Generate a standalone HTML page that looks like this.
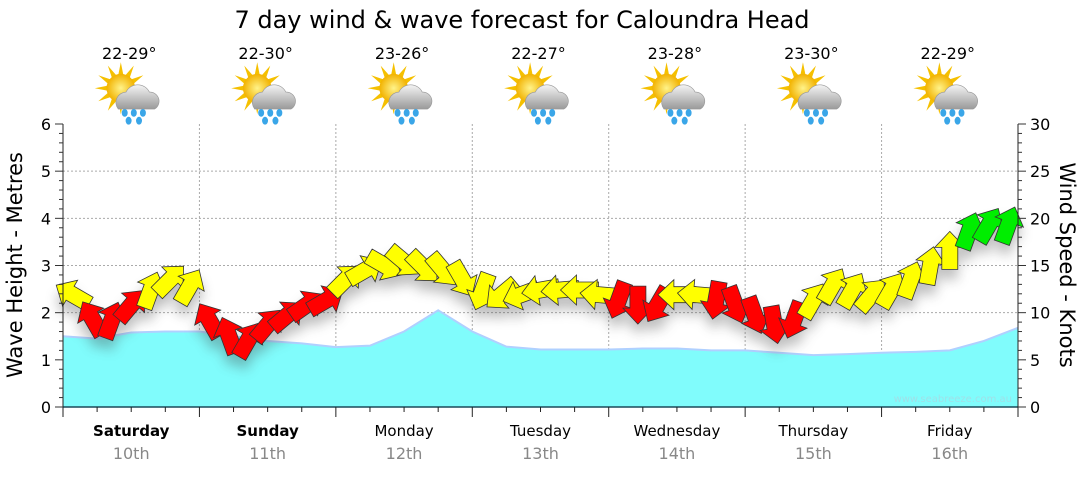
<!DOCTYPE html>
<html><head><meta charset="utf-8"><style>
body{margin:0;background:#fff;width:1080px;height:475px;overflow:hidden}
svg{font-family:"DejaVu Sans","Liberation Sans",sans-serif}
</style></head><body>
<svg id="c" width="1080" height="475">
<defs>
<filter id="sh" x="-50%" y="-50%" width="200%" height="200%"><feGaussianBlur stdDeviation="6"/></filter>
<radialGradient id="sun" cx="50%" cy="50%" r="50%"><stop offset="0" stop-color="#fff38a"/><stop offset="1" stop-color="#f2b200"/></radialGradient>
<linearGradient id="cloud" x1="0" y1="0" x2="0" y2="1"><stop offset="0" stop-color="#f4f4f4"/><stop offset="1" stop-color="#9a9a9a"/></linearGradient>
</defs>
<text x="522" y="28" font-size="24" text-anchor="middle">7 day wind &amp; wave forecast for Caloundra Head</text>
<g id="grid"></g>
<g id="wave"></g>
<g id="shadow" filter="url(#sh)" opacity="0.35"></g>
<g id="arrows"></g>
<g id="axes"></g>
<g id="top"></g>
<text x="1012" y="402" font-size="10" fill="#9fe0e8" text-anchor="end">www.seabreeze.com.au</text>
<text transform="translate(22,265) rotate(-90)" font-size="21" text-anchor="middle">Wave Height - Metres</text>
<text transform="translate(1060,265) rotate(90)" font-size="21" text-anchor="middle">Wind Speed - Knots</text>
</svg>
<script>
const days=["Saturday","Sunday","Monday","Tuesday","Wednesday","Thursday","Friday"];
const dates=["10th","11th","12th","13th","14th","15th","16th"];
const temps=["22-29°","22-30°","23-26°","22-27°","23-28°","23-30°","22-29°"];
const waveTicks=[0,1,2,3,4,5,6];
const windTicks=[0,5,10,15,20,25,30];
// wave height (m), 6-hourly, 29 points
const wave=[1.5,1.45,1.58,1.6, 1.6,1.5,1.4,1.35, 1.27,1.3,1.6,2.05, 1.6,1.28,1.22,1.22, 1.22,1.24,1.24,1.2, 1.2,1.15,1.1,1.12, 1.15,1.17,1.2,1.4,1.68];
// wind speed (knots), 7 per day
const wind=[11.9,9.4,9.2,10.8,12.4,13.5,12.8, 9.2,7.6,7.1,8.7,9.7,10.8,11.3, 13.5,14.5,15,15.4,14.8,14.5,13.5, 12.2,11.9,11.9,12.4,12.4,12.4,11.9, 11.3,10.8,10.8,11.9,11.9,11.3,10.8, 9.7,8.7,9.2,11.3,12.9,12.4,11.9, 12.4,13.5,15,16.6,18.7,19.3,19.3];
const windDir=[300,330,20,40,20,45,30, 330,340,30,40,50,55,60, 45,60,120,130,135,140,150, 200,230,250,260,265,270,275, 200,180,210,270,275,190,160, 160,170,200,30,30,30,40, 30,20,10,0,20,30,20];
const windCol=["y","r","r","r","y","y","y", "r","r","r","r","r","r","r", "y","y","y","y","y","y","y", "y","y","y","y","y","y","y", "r","r","r","y","y","r","r", "r","r","r","y","y","y","y", "y","y","y","y","g","g","g"];
const X0=63,X1=1018,Y0=407,Y1=124,DW=(X1-X0)/7;
const xd=d=>X0+d*DW, yw=v=>Y0-v/6*(Y0-Y1), yk=v=>Y0-v/30*(Y0-Y1);
const NS="http://www.w3.org/2000/svg";
function mk(t,a,p){const e=document.createElementNS(NS,t);for(const k in a)e.setAttribute(k,a[k]);(p||document.getElementById('c')).appendChild(e);return e;}
const G=document.getElementById('grid'),W=document.getElementById('wave'),A=document.getElementById('arrows'),S=document.getElementById('shadow'),AX=document.getElementById('axes'),T=document.getElementById('top');
for(let i=1;i<6;i++){const l=mk('line',{x1:X0,x2:X1,y1:yw(waveTicks[i]),y2:yw(waveTicks[i]),stroke:'#aaa','stroke-dasharray':'2,2'},G);

}
for(let i=1;i<7;i++){const l=mk('line',{x1:xd(i),x2:xd(i),y1:Y1,y2:Y0,stroke:'#aaa','stroke-dasharray':'2,2'},G);

}
let pts=wave.map((v,i)=>[xd(i/4),yw(v)]);
let d='M'+X0+','+Y0+' '+pts.map(p=>'L'+p[0].toFixed(1)+','+p[1].toFixed(1)).join(' ')+' L'+X1+','+Y0+'Z';
const wa=mk('path',{d:d,fill:'#80fcfc',stroke:'none'},W);


const wl=mk('polyline',{points:pts.map(p=>p.join(',')).join(' '),fill:'none',stroke:'#b0d0ff','stroke-width':2},W);


const cols={r:'#ff0000',y:'#ffff00',g:'#00ee00'};
const shape="0,-19 15,-3 8,-3 8,19 -8,19 -8,-3 -15,-3";
wind.forEach((v,i)=>{const day=Math.floor(i/7),k=i%7;const x=xd(day+(k+0.5)/7),y=yk(v);
mk('polygon',{points:shape,fill:'#444',transform:`translate(${x},${y+10}) rotate(${windDir[i]})`},S);
const p=mk('polygon',{points:shape,fill:cols[windCol[i]],stroke:'#333','stroke-width':0.8,transform:`translate(${x.toFixed(1)},${y.toFixed(1)}) rotate(${windDir[i]})`},A);

});
mk('line',{x1:X0,x2:X1,y1:Y0,y2:Y0,stroke:'#1a4a5a','stroke-width':1.5},AX);
mk('line',{x1:X0,x2:X0,y1:Y1,y2:Y0,stroke:'#222'},AX);
mk('line',{x1:X1,x2:X1,y1:Y1,y2:Y0,stroke:'#222'},AX);
for(let i=0;i<=28;i++){const x=xd(i/4);mk('line',{x1:x,x2:x,y1:Y0,y2:Y0+(i%4?5:10),stroke:'#222'},AX);}
for(let i=0;i<=30;i++){const y=yk(i);const L=i%5?4:8;mk('line',{x1:X0,x2:X0-L,y1:y,y2:y,stroke:'#333'},AX);mk('line',{x1:X1,x2:X1+L,y1:y,y2:y,stroke:'#333'},AX);}
waveTicks.forEach(v=>{const t=mk('text',{x:X0-12,y:yw(v)+6,'font-size':16,'text-anchor':'end'},AX);t.textContent=v;

});
windTicks.forEach(v=>{const t=mk('text',{x:X1+12,y:yk(v)+6,'font-size':16},AX);t.textContent=v;

});
days.forEach((n,i)=>{const cx=xd(i+0.5);
const a=mk('text',{x:cx,y:436,'font-size':15,'text-anchor':'middle','font-weight':i<2?'bold':'normal'},AX);a.textContent=n;


const b=mk('text',{x:cx,y:459,'font-size':16,'text-anchor':'middle',fill:'#888'},AX);b.textContent=dates[i];


const t=mk('text',{x:cx-2,y:59,'font-size':16,'text-anchor':'middle'},T);t.textContent=temps[i];


const g=mk('g',{transform:`translate(${cx},96) scale(1.3)`},T);


for(let r=0;r<12;r++){mk('polygon',{points:"-2,-10 2,-10 0,-20",fill:'#f5c000',transform:`translate(-8,-6) rotate(${r*30})`},g);}
mk('circle',{cx:-8,cy:-6,r:11,fill:'url(#sun)'},g);
mk('path',{d:"M-10,10 a8,8 0 0 1 6,-13 a10,10 0 0 1 18,0 a7,7 0 0 1 4,13 z",fill:'url(#cloud)',stroke:'#999','stroke-width':0.5},g);
[[-5,13],[2,13],[9,13],[-2,19],[6,19]].forEach(q=>mk('ellipse',{cx:q[0],cy:q[1],rx:2.3,ry:3,fill:'#3aa6e8'},g));});
</script>
</body></html>
